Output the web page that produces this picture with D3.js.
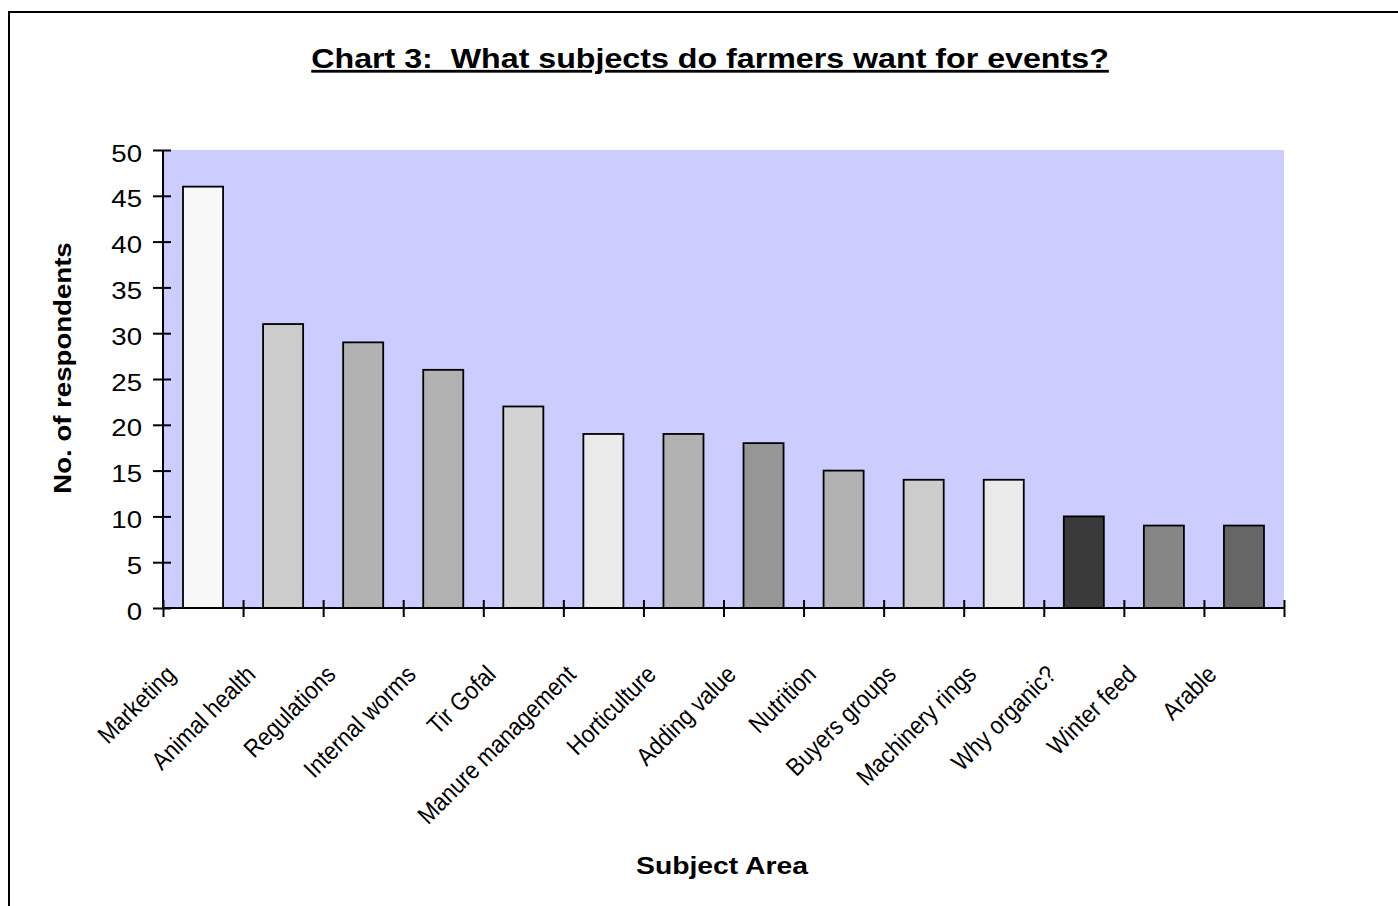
<!DOCTYPE html>
<html>
<head>
<meta charset="utf-8">
<script src="https://cdn.jsdelivr.net/npm/d3@7/dist/d3.min.js"></script>
<style>
  html, body { margin: 0; padding: 0; background: #fff; }
  svg { display: block; }
  text { font-family: Arial, "Liberation Sans", sans-serif; fill: #000; white-space: pre; }
</style>
</head>
<body>
<svg id="chart" width="1398" height="906"></svg>
<script>
// Survey results: subjects farmers want covered at events
const subjects = [
  "Marketing", "Animal health", "Regulations", "Internal worms", "Tir Gofal",
  "Manure management", "Horticulture", "Adding value", "Nutrition",
  "Buyers groups", "Machinery rings", "Why organic?", "Winter feed", "Arable"
];
const respondents = [46, 31, 29, 26, 22, 19, 19, 18, 15, 14, 14, 10, 9, 9];
const barFills = [
  "#f8f8f8", "#cccccc", "#b2b2b2", "#b2b2b2", "#d3d3d3", "#eaeaea", "#b2b2b2",
  "#969696", "#b2b2b2", "#cccccc", "#eaeaea", "#3a3a3a", "#868686", "#666666"
];
const yTicks = [0, 5, 10, 15, 20, 25, 30, 35, 40, 45, 50];

const titleText = "Chart 3:  What subjects do farmers want for events?";
const xTitle = "Subject Area";
const yTitle = "No. of respondents";

const svg = d3.select("#chart");
const plot = { left: 163, right: 1284, top: 150, bottom: 608 };
const stretch = 1.15; // wide lettering along the baseline

// outer frame (continues past the right and bottom edges)
svg.append("rect")
  .attr("x", 9).attr("y", 12)
  .attr("width", 1500).attr("height", 1000)
  .attr("fill", "none").attr("stroke", "#000").attr("stroke-width", 2);

const x = d3.scaleBand().domain(subjects)
  .range([plot.left, plot.right]).paddingInner(0.5).paddingOuter(0.25);
const xEdge = d3.scaleLinear().domain([0, subjects.length]).range([plot.left, plot.right]);
const y = d3.scaleLinear().domain([0, 50]).range([plot.bottom, plot.top]);

// plot area background
svg.append("rect")
  .attr("x", plot.left).attr("y", plot.top)
  .attr("width", plot.right - plot.left).attr("height", plot.bottom - plot.top)
  .attr("fill", "#ccccff");

// bars
svg.append("g").selectAll("rect")
  .data(subjects)
  .join("rect")
  .attr("x", d => x(d))
  .attr("y", (d, i) => y(respondents[i]))
  .attr("width", x.bandwidth())
  .attr("height", (d, i) => y(0) - y(respondents[i]))
  .attr("fill", (d, i) => barFills[i])
  .attr("stroke", "#000")
  .attr("stroke-width", 1.8);

// y axis
const yAxis = svg.append("g")
  .attr("transform", `translate(${plot.left},0)`)
  .call(d3.axisLeft(y).tickValues(yTicks).tickSize(10).tickPadding(0).tickFormat(d3.format("d")));
yAxis.select(".domain").attr("stroke", "#000").attr("stroke-width", 2)
  .attr("d", `M0,${plot.top}V${plot.bottom}`);
yAxis.selectAll(".tick line").attr("stroke", "#000").attr("stroke-width", 2)
  .attr("x1", -10).attr("x2", 8);
yAxis.selectAll(".tick text")
  .attr("x", null).attr("dy", null)
  .attr("font-size", 24)
  .attr("font-family", "Arial, 'Liberation Sans', sans-serif")
  .attr("text-anchor", "end")
  .attr("transform", `translate(-21,11) scale(${stretch},1)`);

// x axis: line plus boundary ticks between categories
const xAxis = svg.append("g")
  .attr("transform", `translate(0,${plot.bottom})`)
  .call(d3.axisBottom(xEdge).tickValues(d3.range(subjects.length + 1)).tickSize(9).tickFormat(""));
xAxis.select(".domain").attr("stroke", "#000").attr("stroke-width", 2)
  .attr("d", `M${plot.left},0H${plot.right}`);
xAxis.selectAll(".tick line").attr("stroke", "#000").attr("stroke-width", 2)
  .attr("y1", -8).attr("y2", 9);

// category labels, slanted at 45° with condensed lettering
svg.append("g").selectAll("text")
  .data(subjects)
  .join("text")
  .attr("font-size", 25)
  .attr("text-anchor", "end")
  .attr("transform", d => `translate(${x(d) + x.bandwidth() / 2 - 26},${plot.bottom + 68}) rotate(-45) scale(0.89,1)`)
  .text(d => d);

// title
svg.append("text")
  .attr("font-size", 28).attr("font-weight", "bold")
  .attr("text-anchor", "middle")
  .attr("text-decoration", "underline")
  .attr("transform", `translate(710,68) scale(${stretch},1)`)
  .text(titleText);

// axis titles
svg.append("text")
  .attr("font-size", 24).attr("font-weight", "bold")
  .attr("text-anchor", "middle")
  .attr("transform", `translate(722,874) scale(1.18,1)`)
  .text(xTitle);

svg.append("text")
  .attr("font-size", 24).attr("font-weight", "bold")
  .attr("text-anchor", "middle")
  .attr("transform", `translate(71,368) rotate(-90) scale(${stretch},1)`)
  .text(yTitle);
</script>
</body>
</html>
